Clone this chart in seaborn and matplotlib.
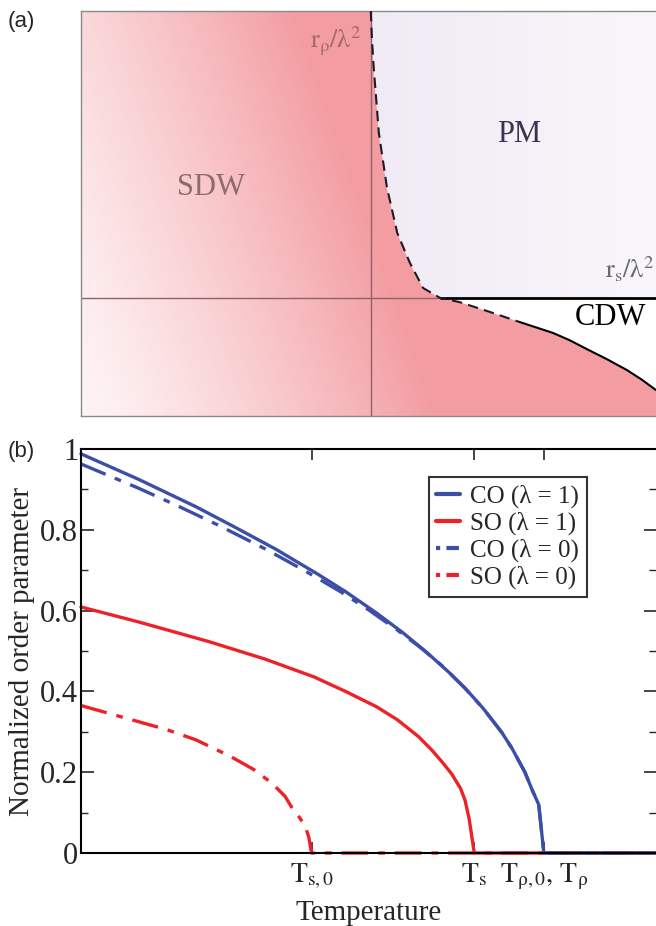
import numpy as np
import matplotlib
matplotlib.use("Agg")
import matplotlib.pyplot as plt
from matplotlib.patches import Polygon
from matplotlib.lines import Line2D
import seaborn as sns

sns.set_style("white")
plt.rcParams['font.family'] = ['Liberation Serif', 'DejaVu Serif']
plt.rcParams['mathtext.fontset'] = 'stix'

# ---------------- data: panel (a) phase diagram (normalised coordinates) -------------
upper_x = [0.504, 0.506, 0.509, 0.518, 0.532, 0.550, 0.572, 0.595, 0.624]
upper_y = [1.000, 0.930, 0.862, 0.699, 0.565, 0.452, 0.378, 0.316, 0.292]
lower_x = [0.624, 0.659, 0.711, 0.763, 0.821, 0.850, 0.880, 0.915, 0.950, 0.975, 1.000]
lower_y = [0.292, 0.281, 0.257, 0.232, 0.205, 0.187, 0.165, 0.140, 0.113, 0.090, 0.064]
vline_x = 0.504
hline_y = 0.292

# ---------------- data: panel (b) order parameters -------------
T_s0, T_s, T_rho = 0.401, 0.684, 0.805
co1_x = [0.0, 0.10, 0.20, 0.267, 0.34, 0.412, 0.46, 0.514, 0.56, 0.601, 0.64, 0.67, 0.70,
         0.732, 0.75, 0.772, 0.785, 0.796, 0.805, 1.0]
co1_y = [0.988, 0.925, 0.857, 0.807, 0.751, 0.690, 0.647, 0.594, 0.545, 0.497, 0.447, 0.405,
         0.357, 0.298, 0.258, 0.200, 0.155, 0.120, 0.0, 0.0]
so1_x = [0.0, 0.10, 0.223, 0.32, 0.405, 0.46, 0.514, 0.55, 0.587, 0.61, 0.63, 0.645, 0.66,
         0.668, 0.675, 0.684, 1.0]
so1_y = [0.609, 0.572, 0.523, 0.480, 0.436, 0.400, 0.362, 0.330, 0.288, 0.255, 0.222, 0.195,
         0.160, 0.130, 0.085, 0.0, 0.0]
co0_x = [0.0, 0.10, 0.17, 0.238, 0.32, 0.39, 0.45, 0.50, 0.55, 0.59, 0.63, 0.667, 0.70,
         0.732, 0.75, 0.772, 0.785, 0.796, 0.805, 1.0]
co0_y = [0.963, 0.903, 0.858, 0.812, 0.753, 0.698, 0.648, 0.602, 0.552, 0.509, 0.461, 0.409,
         0.357, 0.298, 0.258, 0.200, 0.155, 0.120, 0.0, 0.0]
so0_x = [0.0, 0.15, 0.20, 0.26, 0.30, 0.332, 0.355, 0.369, 0.38, 0.39, 0.396, 0.401, 1.0]
so0_y = [0.365, 0.305, 0.280, 0.239, 0.207, 0.173, 0.140, 0.107, 0.088, 0.066, 0.040, 0.0, 0.0]
yticks = [0, 0.2, 0.4, 0.6, 0.8, 1]
ytick_labels = ['0', '0.2', '0.4', '0.6', '0.8', '1']
xtick_pos = [T_s0, T_s, T_rho]
xtick_labels = [r'$\mathrm{T}_{\mathrm{s,0}}$', r'$\mathrm{T}_{\mathrm{s}}$',
                r'$\mathrm{T}_{\mathrm{\rho,0}}\mathrm{,\,T}_{\mathrm{\rho}}$']
legend_labels = ['CO (λ = 1)', 'SO (λ = 1)', 'CO (λ = 0)', 'SO (λ = 0)']

BLUE = '#3b4fa8'
RED = '#ec2228'

fig = plt.figure(figsize=(6.56, 9.26), dpi=100)

# ================= panel (a) =================
axa = fig.add_axes([81/656, 1-416/926, 1-81/656, 405/926])
axa.set_xlim(0, 1)
axa.set_ylim(0, 1)

nx, ny = 400, 300
gx, gy = np.meshgrid(np.linspace(0, 1, nx), np.linspace(0, 1, ny))
light = np.array([254, 244, 245]) / 255
dark = np.array([243, 157, 162]) / 255
t = np.clip((gx + 0.25 * gy) / 0.62, 0, 1) ** 1.25
sdw_img = light[None, None, :] + t[..., None] * (dark - light)[None, None, :]
im1 = axa.imshow(sdw_img, extent=[0, 1, 0, 1], origin='lower', aspect='auto', zorder=1)
sdw_poly = [(0, 0), (0, 1)] + list(zip(upper_x, upper_y)) + list(zip(lower_x[1:], lower_y[1:])) + [(1, 0)]
p1 = Polygon(sdw_poly, closed=True, transform=axa.transData, facecolor='none', edgecolor='none')
axa.add_patch(p1)
im1.set_clip_path(p1)

lav1 = np.array([240, 234, 244]) / 255
lav2 = np.array([249, 247, 251]) / 255
t2 = np.clip((gx - 0.5) / 0.5, 0, 1)
pm_img = lav1[None, None, :] + t2[..., None] * (lav2 - lav1)[None, None, :]
im2 = axa.imshow(pm_img, extent=[0, 1, 0, 1], origin='lower', aspect='auto', zorder=1)
pm_poly = list(zip(upper_x, upper_y)) + [(1, hline_y), (1, 1)]
p2 = Polygon(pm_poly, closed=True, transform=axa.transData, facecolor='none', edgecolor='none')
axa.add_patch(p2)
im2.set_clip_path(p2)

grey = '#8e6267'
axa.axvline(vline_x, color=grey, lw=1.0, zorder=2)
axa.plot([0, upper_x[-1]], [hline_y, hline_y], color=grey, lw=1.0, zorder=2)
axa.plot([upper_x[-1], 1], [hline_y, hline_y], color='black', lw=2.0, zorder=3, solid_capstyle='butt')

dash_x = upper_x + lower_x[1:4]
dash_y = upper_y + lower_y[1:4]
sns.lineplot(x=dash_x, y=dash_y, sort=False, estimator=None, ax=axa, color='#1a1a2a',
             lw=1.5, linestyle=(0, (5, 3)), zorder=4)
sns.lineplot(x=lower_x[3:], y=lower_y[3:], sort=False, estimator=None, ax=axa, color='black',
             lw=1.5, zorder=4)

axa.text(0.226, 0.563, 'SDW', color='#8c6b6e', fontsize=22, ha='center', va='center')
axa.text(0.762, 0.694, 'PM', color='#3b3350', fontsize=22, ha='center', va='center')
axa.text(0.920, 0.242, 'CDW', color='black', fontsize=22, ha='center', va='center')
axa.text(0.442, 0.925, r'$\mathrm{r}_{\mathrm{\rho}}/\mathrm{\lambda}^{2}$', color='#a5686c',
         fontsize=19, ha='center', va='center')
axa.text(0.955, 0.362, r'$\mathrm{r}_{\mathrm{s}}/\mathrm{\lambda}^{2}$', color='#6a6a6a',
         fontsize=19, ha='center', va='center')

axa.set_xticks([])
axa.set_yticks([])
for side in ['left', 'top', 'bottom']:
    axa.spines[side].set_color('#8a8a8a')
    axa.spines[side].set_linewidth(1.0)
axa.spines['right'].set_visible(False)

fig.text(8/656, 1-22/926, '(a)', fontsize=16, family=['Liberation Sans', 'DejaVu Sans'],
         ha='left', va='center')
fig.text(8/656, 1-452/926, '(b)', fontsize=16, family=['Liberation Sans', 'DejaVu Sans'],
         ha='left', va='center')

# ================= panel (b) =================
axb = fig.add_axes([81/656, 1-853/926, 1-81/656, 404/926])
dd = (0, (8, 3, 2, 3))
series = [
    (co1_x, co1_y, BLUE, '-', 2.3),
    (so1_x, so1_y, RED, '-', 2.0),
    (co0_x, co0_y, BLUE, dd, 2.2),
    (so0_x, so0_y, RED, dd, 2.2),
]
handles = []
for i, (xs, ys, c, ls, z) in enumerate(series):
    sns.lineplot(x=xs, y=ys, sort=False, estimator=None, ax=axb, color=c, lw=2.4,
                 linestyle=ls, zorder=z, clip_on=False)
    handles.append(Line2D([], [], color=c, lw=3.0, linestyle=ls if ls == '-' else (0, (1, 1.5, 3, 1.5))))

axb.set_xlim(0, 1)
axb.set_ylim(0, 1)
axb.set_yticks(yticks)
axb.set_yticklabels(ytick_labels)
axb.set_yticks([0.1, 0.3, 0.5, 0.7, 0.9], minor=True)
axb.set_xticks(xtick_pos)
axb.set_xticklabels(xtick_labels)
axb.tick_params(axis='y', which='major', direction='in', length=9, width=1.2, labelsize=22,
                left=True, right=True, pad=2)
axb.tick_params(axis='y', which='minor', direction='in', length=5, width=1.0, left=True, right=True)
axb.tick_params(axis='x', which='major', direction='in', length=8, width=1.2, labelsize=20,
                top=True, bottom=True, pad=6)
for side in ['left', 'top', 'bottom']:
    axb.spines[side].set_color('black')
    axb.spines[side].set_linewidth(1.5)
axb.spines['right'].set_visible(False)
axb.set_ylabel('Normalized order parameter', fontsize=21, labelpad=4)
axb.set_xlabel('Temperature', fontsize=21, labelpad=6)

leg = axb.legend(handles, legend_labels, loc='upper left', bbox_to_anchor=(0.605, 0.931),
                 fontsize=18, frameon=True, fancybox=False, handlelength=0.95,
                 handletextpad=0.4, labelspacing=0.15, borderpad=0.3, borderaxespad=0)
leg.get_frame().set_edgecolor('black')
leg.get_frame().set_linewidth(1.5)

fig.savefig('out.png', dpi=100)
